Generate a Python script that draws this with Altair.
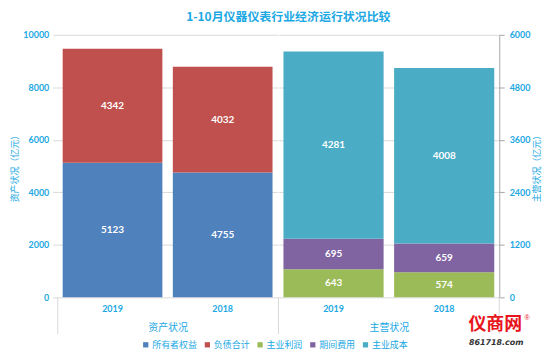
import altair as alt
import pandas as pd

title_text = "1-10月仪器仪表行业经济运行状况比较"
years = ["2019", "2018"]
group_asset = "资产状况"
group_main = "主营状况"
series = ["所有者权益", "负债合计", "主业利润", "期间费用", "主业成本"]
colors = ["#4f81bd", "#c0504d", "#9bbb59", "#8064a2", "#4bacc6"]
owner_equity = [5123, 4755]
liabilities = [4342, 4032]
main_profit = [643, 574]
period_cost = [695, 659]
main_cost = [4281, 4008]
left_ticks = [0, 2000, 4000, 6000, 8000, 10000]
right_ticks = [0, 1200, 2400, 3600, 4800, 6000]
watermark = ["仪商网", "861718.com"]

BLUE = "#1ba8e3"
GRID = "#d9d9d9"
CJK = "Noto Sans CJK SC"
NUM = "Lato"

def rows(names, lists):
    out = []
    for i, y in enumerate(years):
        for k, (n, vals) in enumerate(zip(names, lists)):
            out.append({"year": y, "series": n, "value": vals[i], "order": k})
    return pd.DataFrame(out)

df_l = rows(series[:2], [owner_equity, liabilities])
df_r = rows(series[2:], [main_profit, period_cost, main_cost])

W_L, W_R, H = 221, 222, 264
color = alt.Color("series:N", scale=alt.Scale(domain=series, range=colors),
                  legend=alt.Legend(title=None, orient="none", direction="horizontal",
                                    legendX=84, legendY=307, symbolType="square",
                                    symbolSize=28, symbolStrokeWidth=0, labelFont=CJK,
                                    labelFontSize=9, labelColor=BLUE, columnPadding=5,
                                    labelOffset=2))
xscale = alt.Scale(paddingInner=0.095, paddingOuter=0.045)

def panel(df, group, ydomain, yticks, ytitle, orient, width, rule_df):
    xax = alt.Axis(title=group, labelAngle=0, domain=False, ticks=False, labelPadding=7,
                   titlePadding=9, labelFont=NUM, labelFontWeight="bold", labelFontSize=9,
                   labelColor=BLUE, titleFont=CJK, titleFontSize=10, titleFontWeight="normal",
                   titleColor=BLUE)
    if orient == "left":
        yax = alt.Axis(values=yticks, format="d", title=ytitle, orient="left", domain=False,
                       tickColor=GRID, tickSize=5, labelPadding=4, gridColor=GRID,
                       labelFont=NUM, labelFontWeight="bold", labelFontSize=9,
                       labelColor=BLUE, titleFont=CJK, titleFontSize=9,
                       titleFontWeight="normal", titleColor=BLUE, titlePadding=3)
    else:
        yax = alt.Axis(values=yticks, format="d", title=ytitle, orient="right", domain=True,
                       domainColor="#a6a6a6", tickColor="#a6a6a6", tickSize=5, labelPadding=5,
                       gridColor=GRID, labelFont=NUM, labelFontWeight="bold", labelFontSize=9,
                       labelColor=BLUE, titleFont=CJK, titleFontSize=9,
                       titleFontWeight="normal", titleColor=BLUE, titleAngle=270,
                       titleBaseline="top", titlePadding=3)
    base = alt.Chart(df)
    bars = base.mark_bar().encode(
        x=alt.X("year:N", sort=years, scale=xscale, axis=xax),
        y=alt.Y("value:Q", stack="zero", scale=alt.Scale(domain=ydomain), axis=yax),
        color=color,
        order=alt.Order("order:Q"),
    )
    labels = base.transform_stack(
        stack="value", groupby=["year"], as_=["v0", "v1"], sort=[alt.SortField("order")]
    ).transform_calculate(mid="(datum.v0 + datum.v1) / 2").mark_text(
        color="white", font=NUM, fontWeight="bold", fontSize=10
    ).encode(
        x=alt.X("year:N", sort=years),
        y=alt.Y("mid:Q"),
        text=alt.Text("value:Q", format="d"),
    )
    seps = alt.Chart(rule_df).mark_rule(color=GRID, strokeWidth=1).encode(
        x=alt.X("px:Q", scale=None), y=alt.value(H), y2=alt.value(H + 37)
    )
    return [bars, labels, seps]

left = alt.layer(*panel(df_l, group_asset, [0, 10000], left_ticks, "资产状况（亿元）", "left",
                        W_L, pd.DataFrame({"px": [0]}))).properties(width=W_L, height=H)

wm_df = pd.DataFrame({"t": [watermark[0]]})
wm1 = alt.Chart(wm_df).mark_text(color="#e8141b", font=CJK, fontWeight="bold", fontSize=18,
                                 align="center", baseline="middle").encode(
    text="t:N", x=alt.value(218), y=alt.value(292))
wm2 = alt.Chart(pd.DataFrame({"t": [watermark[1]]})).mark_text(
    color="#333333", font="DejaVu Sans", fontWeight="bold", fontStyle="italic", fontSize=8,
    align="center", baseline="middle").encode(text="t:N", x=alt.value(219), y=alt.value(310))
wm3 = alt.Chart(pd.DataFrame({"t": ["®"]})).mark_text(
    color="#e8141b", fontSize=7, align="center", baseline="middle").encode(
    text="t:N", x=alt.value(250), y=alt.value(285))

right = alt.layer(*panel(df_r, group_main, [0, 6000], right_ticks, "主营状况（亿元）", "right",
                         W_R, pd.DataFrame({"px": [0, W_R]})), wm1, wm2, wm3
                  ).properties(width=W_R, height=H)

chart = alt.hconcat(left, right, spacing=0).resolve_scale(
    x="independent", y="independent", color="shared"
).properties(
    title=alt.TitleParams(title_text, anchor="middle", font=CJK, fontSize=12,
                          fontWeight="bold", color=BLUE, offset=7, dx=12),
    padding={"left": 2, "right": 0, "top": 2, "bottom": 0},
).configure_view(stroke=None)

chart.save("out.html", embed_options={"renderer": "svg", "actions": False})
